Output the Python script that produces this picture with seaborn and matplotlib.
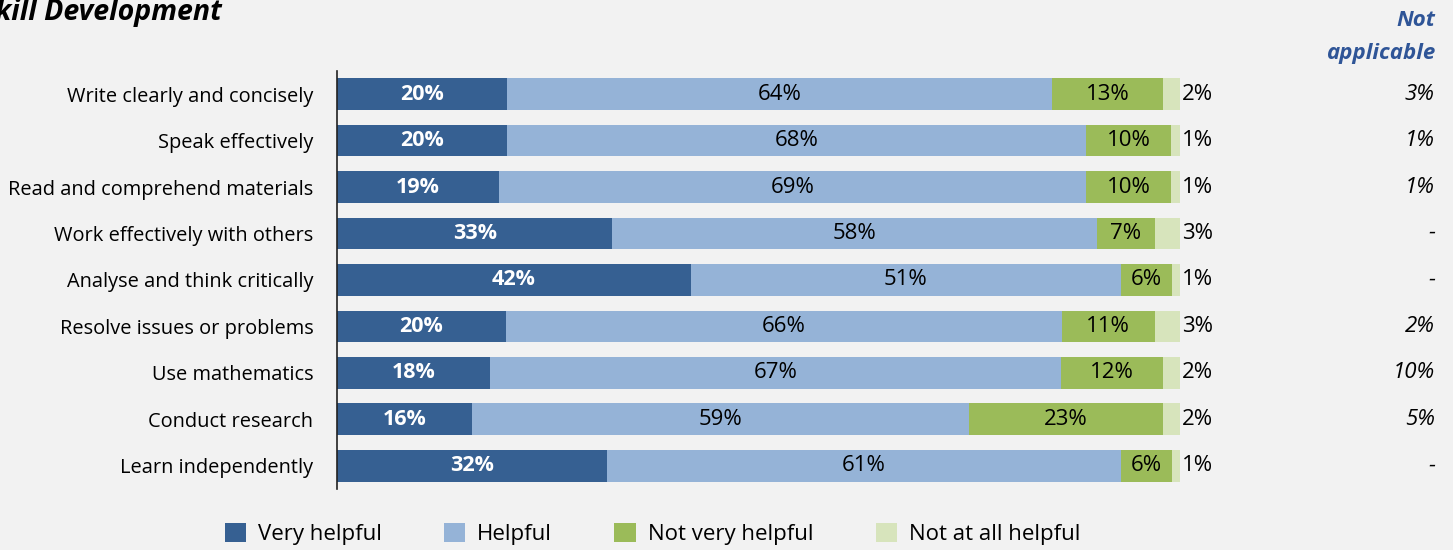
import seaborn as sns
import matplotlib.pyplot as plt
import matplotlib.transforms as mtransforms
from matplotlib.patches import Patch
import pandas as pd

########################################################
# Data
########################################################
items = ["Write clearly and concisely", "Speak effectively", "Read and comprehend materials",
         "Work effectively with others", "Analyse and think critically", "Resolve issues or problems",
         "Use mathematics", "Conduct research", "Learn independently"]
very_helpful = [20, 20, 19, 33, 42, 20, 18, 16, 32]
helpful = [64, 68, 69, 58, 51, 66, 67, 59, 61]
not_very = [13, 10, 10, 7, 6, 11, 12, 23, 6]
not_at_all = [2, 1, 1, 3, 1, 3, 2, 2, 1]
not_applicable = ["3%", "1%", "1%", "-", "-", "2%", "10%", "5%", "-"]

series_names = ["Very helpful", "Helpful", "Not very helpful", "Not at all helpful"]
colors = ["#366092", "#95B3D7", "#9BBB59", "#D7E4BC"]

df = pd.DataFrame({"item": items, "Very helpful": very_helpful, "Helpful": helpful,
                   "Not very helpful": not_very, "Not at all helpful": not_at_all})
total = df[series_names].sum(axis=1)
# bars are normalised to 100% (the rounded labels do not always add up)
shares = df[series_names].div(total, axis=0) * 100
cum = shares.cumsum(axis=1)
cum["item"] = items

########################################################
# Plot
########################################################
sns.set_style("white")
plt.rcParams['font.family'] = ['Open Sans', 'DejaVu Sans']

fig = plt.figure(figsize=(14.53, 5.5), dpi=100, facecolor="#F2F2F2")
ax = fig.add_axes([0.2319, 0.111, 0.5802, 0.76])
ax.set_facecolor("#F2F2F2")

# overlapping cumulative bars, widest first
for name, col in reversed(list(zip(series_names, colors))):
    sns.barplot(data=cum, x=name, y="item", orient="h", color=col, saturation=1,
                width=0.68, linewidth=0, ax=ax)

ax.set_xlim(0, 100)
ax.set_ylim(8.5, -0.5)
ax.set_xlabel("")
ax.set_ylabel("")
ax.set_xticks([])
ax.tick_params(axis="y", length=0, labelsize=14.4, pad=17, labelcolor="black")
for s in ["top", "right", "bottom"]:
    ax.spines[s].set_visible(False)
ax.spines["left"].set_color("#222222")
ax.spines["left"].set_linewidth(1.2)

# segment labels
for i in range(len(items)):
    left = 0
    for j, name in enumerate(series_names):
        w = shares.loc[i, name]
        val = df.loc[i, name]
        if j == 0:
            ax.text(left + w / 2, i, f"{val}%", ha="center", va="center", color="white",
                    fontsize=15.5, fontweight="bold")
        elif j < 3:
            ax.text(left + w / 2, i, f"{val}%", ha="center", va="center", color="black",
                    fontsize=16)
        else:
            ax.text(100.2, i, f"{val}%", ha="left", va="center", color="black", fontsize=16)
        left += w

# not applicable column
trans = mtransforms.blended_transform_factory(fig.transFigure, ax.transData)
for i, v in enumerate(not_applicable):
    ax.text(0.9876, i, v, transform=trans, ha="right", va="center", fontsize=16,
            style="italic", color="black")
fig.text(0.9876, 0.962, "Not", ha="right", va="center", fontsize=16, fontweight="bold",
         style="italic", color="#2F5597")
fig.text(0.9876, 0.902, "applicable", ha="right", va="center", fontsize=16, fontweight="bold",
         style="italic", color="#2F5597")

# title (cut off at the left edge as in the original)
fig.text(-0.0135, 0.977, "Skill Development", ha="left", va="center", fontsize=20.5,
         fontweight="bold", style="italic", color="black")

handles = [Patch(facecolor=c, edgecolor="none") for c in colors]
fig.legend(handles, series_names, loc="center", bbox_to_anchor=(0.449, 0.029), ncol=4,
           frameon=False, fontsize=16, handlelength=0.95, handleheight=0.95,
           handletextpad=0.55, columnspacing=2.8, labelcolor="black")

plt.savefig("out.png", dpi=100, facecolor=fig.get_facecolor())
